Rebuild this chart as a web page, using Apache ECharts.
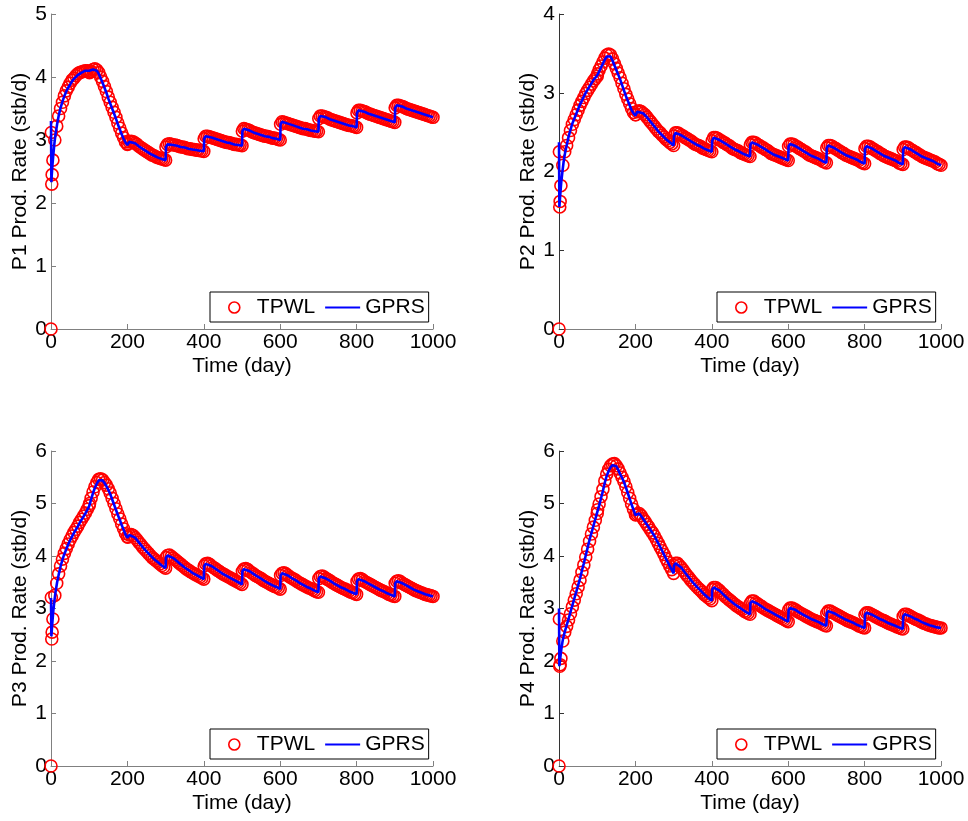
<!DOCTYPE html>
<html>
<head>
<meta charset="utf-8">
<script src="https://cdn.jsdelivr.net/npm/echarts@6/dist/echarts.min.js"></script>
<style>
html,body{margin:0;padding:0;background:#fff;}
#chart{width:968px;height:821px;}
</style>
</head>
<body>
<div id="chart"></div>
<script>
// GPRS report times (day)
const gprsTime = [0,1,2,4,6,9,12,16,20,25,30,35,40,45,50,55,60,65,70,75,80,85,90,95,100,
101,105,110,115,120,125,130,135,140,145,150,155,160,165,170,175,180,185,190,195,200,
201,205,210,220,230,240,250,260,270,280,290,300,
301,305,310,320,330,340,350,360,370,380,390,400,
401,405,410,420,430,440,450,460,470,480,490,500,
501,505,510,520,530,540,550,560,570,580,590,600,
601,605,610,620,630,640,650,660,670,680,690,700,
701,705,710,720,730,740,750,760,770,780,790,800,
801,805,810,820,830,840,850,860,870,880,890,900,
901,905,910,920,930,940,950,960,970,980,990,1000];

// TPWL report times (day)
const tpwlTime = [0,1,2,3,5,10,15,20,25,30,35,40,45,50,55,60,65,70,75,80,85,90,95,100,
101,105,110,115,120,125,130,135,140,145,150,155,160,165,170,175,180,185,190,195,200,
201,205,210,215,220,225,230,235,240,245,250,255,260,265,270,275,280,285,290,295,300,
301,305,310,315,320,325,330,335,340,345,350,355,360,365,370,375,380,385,390,395,400,
401,405,410,415,420,425,430,435,440,445,450,455,460,465,470,475,480,485,490,495,500,
501,505,510,515,520,525,530,535,540,545,550,555,560,565,570,575,580,585,590,595,600,
601,605,610,615,620,625,630,635,640,645,650,655,660,665,670,675,680,685,690,695,700,
701,705,710,715,720,725,730,735,740,745,750,755,760,765,770,775,780,785,790,795,800,
801,805,810,815,820,825,830,835,840,845,850,855,860,865,870,875,880,885,890,895,900,
901,905,910,915,920,925,930,935,940,945,950,955,960,965,970,975,980,985,990,995,1000];

// P1
const p1Gprs = [3.30,2.33,2.45,2.62,2.76,2.95,3.10,3.25,3.38,3.51,3.61,3.70,3.77,3.83,3.88,3.93,3.97,4.00,4.03,4.05,4.07,4.09,4.10,4.10,4.10,
4.09,4.10,4.12,4.12,4.10,4.05,3.98,3.91,3.83,3.75,3.66,3.58,3.50,3.42,3.34,3.25,3.17,3.09,3.02,2.96,2.92,
2.93,2.97,2.98,2.95,2.90,2.86,2.82,2.78,2.75,2.72,2.70,2.68,
2.89,2.93,2.94,2.92,2.91,2.89,2.88,2.86,2.85,2.84,2.83,2.82,
3.02,3.06,3.06,3.04,3.02,3.00,2.98,2.96,2.95,2.93,2.92,2.91,
3.14,3.18,3.17,3.15,3.12,3.10,3.08,3.06,3.05,3.03,3.02,3.00,
3.25,3.29,3.28,3.26,3.24,3.22,3.20,3.18,3.17,3.15,3.14,3.13,
3.34,3.38,3.38,3.36,3.33,3.31,3.29,3.27,3.25,3.23,3.22,3.20,
3.43,3.47,3.47,3.45,3.42,3.40,3.38,3.36,3.34,3.32,3.30,3.28,
3.51,3.55,3.55,3.53,3.50,3.48,3.46,3.44,3.42,3.40,3.38,3.36];
const p1Tpwl = [0,3.12,2.30,2.45,2.68,3.00,3.22,3.38,3.50,3.60,3.70,3.78,3.84,3.90,3.95,3.98,4.02,4.05,4.07,4.08,4.09,4.10,4.10,4.09,
4.07,4.09,4.12,4.13,4.11,4.07,4.00,3.93,3.85,3.77,3.68,3.60,3.52,3.44,3.36,3.27,3.19,3.11,3.04,2.97,2.93,
2.94,2.97,2.98,2.97,2.95,2.93,2.90,2.88,2.86,2.84,2.82,2.80,2.78,2.76,2.75,2.73,2.72,2.71,2.70,2.69,2.68,
2.89,2.93,2.94,2.93,2.92,2.92,2.91,2.90,2.89,2.89,2.88,2.87,2.86,2.86,2.85,2.85,2.84,2.84,2.83,2.83,2.82,
3.02,3.06,3.06,3.05,3.04,3.03,3.02,3.01,3.00,2.99,2.98,2.97,2.96,2.96,2.95,2.94,2.93,2.93,2.92,2.92,2.91,
3.14,3.18,3.17,3.16,3.15,3.13,3.12,3.11,3.10,3.09,3.08,3.07,3.06,3.06,3.05,3.04,3.03,3.03,3.02,3.01,3.00,
3.25,3.29,3.28,3.27,3.26,3.25,3.24,3.23,3.22,3.21,3.20,3.19,3.18,3.18,3.17,3.16,3.15,3.15,3.14,3.14,3.13,
3.34,3.38,3.38,3.37,3.36,3.35,3.33,3.32,3.31,3.30,3.29,3.28,3.27,3.26,3.25,3.24,3.23,3.23,3.22,3.21,3.20,
3.43,3.47,3.47,3.46,3.45,3.44,3.42,3.41,3.40,3.39,3.38,3.37,3.36,3.35,3.34,3.33,3.32,3.31,3.30,3.29,3.28,
3.51,3.55,3.55,3.54,3.53,3.52,3.50,3.49,3.48,3.47,3.46,3.45,3.44,3.43,3.42,3.41,3.40,3.39,3.38,3.37,3.36];

// P2
const p2Gprs = [2.37,1.55,1.62,1.75,1.87,2.00,2.12,2.24,2.33,2.44,2.53,2.61,2.67,2.73,2.79,2.85,2.90,2.95,3.00,3.04,3.08,3.12,3.16,3.19,3.22,
3.23,3.27,3.32,3.37,3.42,3.46,3.48,3.46,3.41,3.35,3.29,3.23,3.17,3.10,3.03,2.96,2.90,2.84,2.78,2.74,2.71,
2.72,2.76,2.77,2.74,2.69,2.63,2.57,2.51,2.46,2.41,2.37,2.33,
2.45,2.49,2.49,2.46,2.43,2.40,2.37,2.34,2.32,2.29,2.27,2.25,
2.39,2.43,2.43,2.40,2.37,2.34,2.31,2.28,2.26,2.23,2.21,2.19,
2.34,2.37,2.37,2.34,2.31,2.28,2.25,2.22,2.20,2.18,2.16,2.14,
2.32,2.35,2.35,2.32,2.29,2.26,2.23,2.20,2.18,2.16,2.13,2.11,
2.30,2.33,2.33,2.30,2.27,2.24,2.21,2.19,2.17,2.15,2.12,2.10,
2.29,2.32,2.32,2.29,2.26,2.23,2.20,2.18,2.16,2.14,2.11,2.09,
2.28,2.31,2.31,2.28,2.25,2.22,2.19,2.17,2.15,2.13,2.10,2.08];
const p2Tpwl = [0,2.25,1.55,1.62,1.82,2.08,2.25,2.33,2.43,2.52,2.60,2.66,2.72,2.78,2.84,2.89,2.94,2.99,3.03,3.07,3.11,3.15,3.18,3.21,
3.24,3.29,3.34,3.39,3.44,3.48,3.49,3.48,3.43,3.37,3.31,3.25,3.19,3.12,3.05,2.98,2.92,2.86,2.80,2.75,2.72,
2.72,2.76,2.77,2.76,2.74,2.72,2.69,2.66,2.63,2.60,2.57,2.54,2.51,2.49,2.46,2.44,2.41,2.39,2.37,2.35,2.33,
2.45,2.49,2.49,2.48,2.46,2.45,2.43,2.42,2.40,2.39,2.37,2.35,2.34,2.33,2.32,2.30,2.29,2.28,2.27,2.26,2.25,
2.39,2.43,2.43,2.42,2.40,2.39,2.37,2.36,2.34,2.33,2.31,2.29,2.28,2.27,2.26,2.24,2.23,2.22,2.21,2.20,2.19,
2.34,2.37,2.37,2.36,2.34,2.33,2.31,2.30,2.28,2.27,2.25,2.23,2.22,2.21,2.20,2.19,2.18,2.17,2.16,2.15,2.14,
2.32,2.35,2.35,2.34,2.32,2.31,2.29,2.28,2.26,2.25,2.23,2.21,2.20,2.19,2.18,2.17,2.16,2.15,2.13,2.12,2.11,
2.30,2.33,2.33,2.32,2.30,2.29,2.27,2.26,2.24,2.23,2.21,2.20,2.19,2.18,2.17,2.16,2.15,2.14,2.12,2.11,2.10,
2.29,2.32,2.32,2.31,2.29,2.28,2.26,2.25,2.23,2.22,2.20,2.19,2.18,2.17,2.16,2.15,2.14,2.13,2.11,2.10,2.09,
2.28,2.31,2.31,2.30,2.28,2.27,2.25,2.24,2.22,2.21,2.19,2.18,2.17,2.16,2.15,2.14,2.13,2.12,2.10,2.09,2.08];

// P3
const p3Gprs = [3.20,2.47,2.58,2.78,2.95,3.15,3.32,3.50,3.64,3.80,3.93,4.04,4.13,4.22,4.30,4.37,4.44,4.50,4.56,4.63,4.69,4.75,4.81,4.88,4.95,
4.98,5.08,5.20,5.30,5.38,5.44,5.46,5.44,5.39,5.33,5.26,5.18,5.08,4.98,4.88,4.78,4.69,4.59,4.50,4.41,4.35,
4.36,4.40,4.41,4.35,4.26,4.17,4.09,4.01,3.94,3.88,3.82,3.77,
3.97,4.01,4.02,3.96,3.90,3.84,3.78,3.73,3.68,3.64,3.60,3.56,
3.81,3.85,3.86,3.81,3.76,3.71,3.66,3.62,3.58,3.54,3.50,3.46,
3.71,3.75,3.76,3.71,3.66,3.61,3.57,3.52,3.48,3.44,3.41,3.37,
3.63,3.67,3.68,3.63,3.58,3.54,3.49,3.45,3.41,3.38,3.34,3.31,
3.57,3.61,3.62,3.57,3.53,3.48,3.44,3.40,3.37,3.33,3.30,3.27,
3.52,3.56,3.57,3.52,3.48,3.44,3.40,3.36,3.33,3.29,3.26,3.23,
3.48,3.52,3.53,3.48,3.44,3.40,3.36,3.33,3.30,3.27,3.25,3.23];
const p3Tpwl = [0,3.21,2.42,2.55,2.80,3.25,3.48,3.66,3.81,3.94,4.05,4.14,4.23,4.31,4.38,4.45,4.51,4.57,4.64,4.70,4.76,4.82,4.89,4.96,
5.00,5.10,5.22,5.32,5.40,5.46,5.47,5.45,5.40,5.35,5.28,5.20,5.10,5.00,4.90,4.80,4.71,4.61,4.52,4.43,4.37,
4.36,4.40,4.41,4.39,4.35,4.31,4.26,4.22,4.17,4.13,4.09,4.05,4.01,3.97,3.94,3.91,3.88,3.85,3.82,3.79,3.77,
3.97,4.01,4.02,3.99,3.96,3.93,3.90,3.87,3.84,3.81,3.78,3.75,3.73,3.70,3.68,3.66,3.64,3.62,3.60,3.58,3.56,
3.81,3.85,3.86,3.84,3.81,3.78,3.76,3.73,3.71,3.68,3.66,3.64,3.62,3.60,3.58,3.56,3.54,3.52,3.50,3.48,3.46,
3.71,3.75,3.76,3.74,3.71,3.68,3.66,3.63,3.61,3.59,3.57,3.54,3.52,3.50,3.48,3.46,3.44,3.42,3.41,3.39,3.37,
3.63,3.67,3.68,3.66,3.63,3.60,3.58,3.56,3.54,3.51,3.49,3.47,3.45,3.43,3.41,3.39,3.38,3.36,3.34,3.32,3.31,
3.57,3.61,3.62,3.60,3.57,3.55,3.53,3.50,3.48,3.46,3.44,3.42,3.40,3.38,3.37,3.35,3.33,3.31,3.30,3.28,3.27,
3.52,3.56,3.57,3.55,3.52,3.50,3.48,3.46,3.44,3.42,3.40,3.38,3.36,3.34,3.33,3.31,3.29,3.27,3.26,3.24,3.23,
3.48,3.52,3.53,3.51,3.48,3.46,3.44,3.42,3.40,3.38,3.36,3.34,3.33,3.31,3.30,3.28,3.27,3.26,3.25,3.24,3.23];

// P4
const p4Gprs = [3.00,1.90,1.98,2.10,2.22,2.36,2.47,2.58,2.68,2.80,2.93,3.06,3.19,3.31,3.44,3.57,3.72,3.86,4.01,4.16,4.31,4.44,4.57,4.70,4.83,
4.86,4.96,5.10,5.24,5.40,5.53,5.62,5.69,5.73,5.74,5.71,5.64,5.56,5.49,5.41,5.31,5.20,5.09,4.98,4.88,4.78,
4.78,4.80,4.81,4.71,4.60,4.49,4.38,4.24,4.10,3.95,3.81,3.67,
3.82,3.86,3.86,3.78,3.68,3.59,3.50,3.42,3.35,3.27,3.21,3.15,
3.36,3.40,3.40,3.34,3.27,3.20,3.14,3.08,3.03,2.98,2.93,2.89,
3.10,3.14,3.14,3.09,3.04,2.99,2.95,2.91,2.87,2.83,2.79,2.75,
2.97,3.01,3.01,2.97,2.92,2.88,2.84,2.80,2.77,2.74,2.70,2.67,
2.91,2.95,2.95,2.91,2.87,2.83,2.79,2.76,2.73,2.69,2.66,2.63,
2.88,2.92,2.92,2.88,2.84,2.80,2.77,2.73,2.70,2.67,2.64,2.61,
2.85,2.89,2.89,2.85,2.81,2.78,2.74,2.71,2.68,2.66,2.64,2.63];
const p4Tpwl = [0,2.80,1.90,1.93,2.05,2.38,2.55,2.66,2.78,2.90,3.03,3.16,3.28,3.41,3.54,3.69,3.83,3.98,4.13,4.28,4.42,4.55,4.68,4.81,
4.88,4.99,5.13,5.27,5.43,5.56,5.65,5.72,5.75,5.76,5.72,5.66,5.58,5.50,5.42,5.32,5.21,5.10,4.99,4.89,4.79,
4.78,4.80,4.81,4.77,4.71,4.66,4.60,4.55,4.49,4.44,4.38,4.31,4.24,4.17,4.10,4.03,3.95,3.88,3.81,3.74,3.67,
3.82,3.86,3.86,3.82,3.78,3.73,3.68,3.63,3.59,3.54,3.50,3.46,3.42,3.38,3.35,3.31,3.27,3.24,3.21,3.18,3.15,
3.36,3.40,3.40,3.37,3.34,3.30,3.27,3.23,3.20,3.17,3.14,3.11,3.08,3.05,3.03,3.00,2.98,2.95,2.93,2.91,2.89,
3.10,3.14,3.14,3.11,3.09,3.06,3.04,3.01,2.99,2.97,2.95,2.93,2.91,2.89,2.87,2.85,2.83,2.81,2.79,2.77,2.75,
2.97,3.01,3.01,2.99,2.97,2.94,2.92,2.90,2.88,2.86,2.84,2.82,2.80,2.78,2.77,2.75,2.74,2.72,2.70,2.68,2.67,
2.91,2.95,2.95,2.93,2.91,2.89,2.87,2.85,2.83,2.81,2.79,2.77,2.76,2.74,2.73,2.71,2.69,2.67,2.66,2.64,2.63,
2.88,2.92,2.92,2.90,2.88,2.86,2.84,2.82,2.80,2.78,2.77,2.75,2.73,2.71,2.70,2.68,2.67,2.65,2.64,2.62,2.61,
2.85,2.89,2.89,2.87,2.85,2.83,2.81,2.79,2.78,2.76,2.74,2.72,2.71,2.69,2.68,2.67,2.66,2.65,2.64,2.63,2.63];

const yNames = ['P1 Prod. Rate (stb/d)','P2 Prod. Rate (stb/d)','P3 Prod. Rate (stb/d)','P4 Prod. Rate (stb/d)'];
const yMax = [5, 4, 6, 6];
const xName = 'Time (day)';
const seriesNames = ['TPWL', 'GPRS'];
const tpwlData = [p1Tpwl, p2Tpwl, p3Tpwl, p4Tpwl];
const gprsData = [p1Gprs, p2Gprs, p3Gprs, p4Gprs];

const FONT = "'Liberation Sans', Arial, Helvetica, sans-serif";
const gridPos = [
  {left: 51, top: 14},
  {left: 559, top: 14},
  {left: 51, top: 451},
  {left: 559, top: 451}
];
const legendPos = [
  {left: 210, top: 292},
  {left: 717, top: 292},
  {left: 210, top: 729},
  {left: 717, top: 729}
];
const yAxisColor = ['#808080', '#333333', '#808080', '#333333'];

const grids = [], xAxes = [], yAxes = [], series = [], legends = [];
for (let i = 0; i < 4; i++) {
  grids.push({left: gridPos[i].left, top: gridPos[i].top, width: 382, height: 315, containLabel: false});
  xAxes.push({
    type: 'value', gridIndex: i, min: 0, max: 1000, interval: 200,
    name: xName, nameLocation: 'middle', nameGap: 27,
    nameTextStyle: {fontSize: 21, color: '#000', fontFamily: FONT},
    axisLine: {show: true, onZero: false, lineStyle: {color: '#808080', width: 1}},
    axisTick: {show: true, inside: true, length: 5, lineStyle: {color: '#808080'}},
    splitLine: {show: false},
    axisLabel: {fontSize: 21, color: '#000', margin: 3, fontFamily: FONT, formatter: v => String(v)}
  });
  yAxes.push({
    type: 'value', gridIndex: i, min: 0, max: yMax[i], interval: 1,
    name: yNames[i], nameLocation: 'middle', nameGap: 20,
    nameTextStyle: {fontSize: 21, color: '#000', fontFamily: FONT},
    axisLine: {show: true, onZero: false, lineStyle: {color: yAxisColor[i], width: 1}},
    axisTick: {show: true, inside: true, length: 5, lineStyle: {color: yAxisColor[i]}},
    splitLine: {show: false},
    axisLabel: {fontSize: 21, color: '#000', margin: 4, fontFamily: FONT, formatter: v => String(v)}
  });
  series.push({
    name: seriesNames[0], type: 'scatter', xAxisIndex: i, yAxisIndex: i,
    symbol: 'circle', symbolSize: 12,
    itemStyle: {color: 'rgba(255,255,255,0)', borderColor: '#ff0000', borderWidth: 1.6, opacity: 1},
    emphasis: {disabled: true},
    clip: false,
    data: tpwlTime.map((t, k) => [t, tpwlData[i][k]])
  });
  series.push({
    name: seriesNames[1], type: 'line', xAxisIndex: i, yAxisIndex: i,
    symbol: 'none', showSymbol: false,
    lineStyle: {color: '#0000ff', width: 2.6},
    itemStyle: {color: '#0000ff'},
    emphasis: {disabled: true},
    data: gprsTime.map((t, k) => [t, gprsData[i][k]])
  });
  legends.push({
    left: legendPos[i].left, top: legendPos[i].top,
    orient: 'horizontal',
    data: [
      {name: seriesNames[0], itemStyle: {borderWidth: 1.6}},
      {name: seriesNames[1], itemStyle: {color: 'rgba(0,0,0,0)', borderWidth: 0, opacity: 0}}
    ],
    itemWidth: 35, itemHeight: 11, itemGap: 9,
    padding: [5, 4, 4, 18],
    borderColor: '#000', borderWidth: 1, backgroundColor: '#fff',
    selectedMode: false,
    textStyle: {fontSize: 21, color: '#000', fontFamily: FONT}
  });
}

const chart = echarts.init(document.getElementById('chart'), null, {renderer: 'canvas'});
chart.setOption({
  animation: false,
  backgroundColor: '#fff',
  grid: grids,
  xAxis: xAxes,
  yAxis: yAxes,
  legend: legends,
  series: series
});
</script>
</body>
</html>
